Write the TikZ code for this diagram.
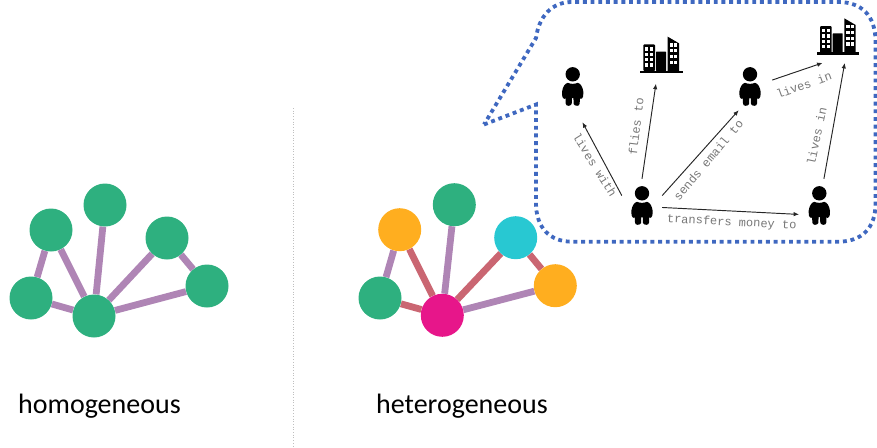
\documentclass[tikz,border=0pt]{standalone}
\usepackage{fontspec}
\setmainfont{Carlito}
\newfontfamily\monof{Liberation Mono}
\usetikzlibrary{arrows.meta,backgrounds}
\definecolor{cgreen}{HTML}{2EB07F}
\definecolor{corange}{HTML}{FFAE1F}
\definecolor{ccyan}{HTML}{28C8D2}
\definecolor{cmagenta}{HTML}{E7168A}
\definecolor{cpurple}{HTML}{AF85B5}
\definecolor{cred}{HTML}{CA6672}
\definecolor{cblue}{HTML}{3F68C0}
\definecolor{clabel}{HTML}{777777}
\tikzset{
  x=1pt,y=-1pt,
  gnode/.style={circle,minimum size=43pt,inner sep=0pt,fill=#1},
  edgep/.style={line width=6.8pt,cpurple},
  edger/.style={line width=6.8pt,cred},
  slot/.style={inner sep=0pt,minimum width=#1},
  arrowline/.style={line width=0.95pt,black!85,-{Latex[length=5.5pt,width=4.5pt]}},
  rel/.style={font=\monof\fontsize{12}{12}\selectfont,text=clabel,inner sep=0pt},
  caption/.style={font=\fontsize{28}{28}\selectfont,text=black,inner sep=0pt,anchor=base west},
  person/.pic={
    \fill[black] (0,-11.7) circle[radius=7.2];
    \fill[black] (-5,-3.2) .. controls (-8,-2.5) and (-10,1) .. (-10.7,6)
      .. controls (-11,9) and (-10.5,12.5) .. (-8,13)
      .. controls (-7.4,13) and (-7.2,12) .. (-7.2,10)
      -- (-7,17.5) .. controls (-7,20.5) and (-2,20.5) .. (-1,18)
      -- (-0.7,12) -- (0.7,12) -- (1,18)
      .. controls (2,20.5) and (7,20.5) .. (7,17.5)
      -- (7.2,10) .. controls (7.2,12) and (7.4,13) .. (8,13)
      .. controls (10.5,12.5) and (11,9) .. (10.7,6)
      .. controls (10,1) and (8,-2.5) .. (5,-3.2)
      .. controls (2,-1.8) and (-2,-1.8) .. cycle;
  },
  building/.pic={
    \fill[black] (-21,15.7) rectangle (21.5,18);
    \fill[black,rounded corners=1pt] (-17.7,16) -- (-17.7,-10.7) -- (-6,-10.7) -- (-6,16) -- cycle;
    \fill[black,rounded corners=0.5pt] (-5,16) -- (-5,-3.3) -- (5,-3.3) -- (5,16) -- cycle;
    \fill[black] (6.7,16) -- (6.7,-18.3) -- (18,-11.7) -- (18,16) -- cycle;
    \foreach \wx in {-16,-11}{\foreach \wy in {-7.7,-2.3,3,8.3}{
      \fill[white] (\wx,\wy) rectangle ++(3.3,3.3);}}
    \foreach \wx in {8.5,13}{\foreach \wy in {-11.7,-6,0,5.7}{
      \fill[white] (\wx,\wy) rectangle ++(3.3,3.3);}}
  },
}
\begin{document}
\begin{tikzpicture}
\useasboundingbox (0,0) rectangle (877,447);
% divider
\draw[black!25,line width=0.7pt,dotted] (293.5,108) coordinate (dt) -- (293.5,447) coordinate (db);
% homogeneous
\node[gnode=cgreen] (a1) at (51,230) {};
\node[gnode=cgreen] (a2) at (105,205) {};
\node[gnode=cgreen] (a3) at (167,238) {};
\node[gnode=cgreen] (a4) at (207,286) {};
\node[gnode=cgreen] (a5) at (31,298) {};
\node[gnode=cgreen] (a6) at (94,316) {};
% heterogeneous
\node[gnode=corange] (b1) at (399.7,229.7) {};
\node[gnode=cgreen] (b2) at (454.3,204.7) {};
\node[gnode=ccyan] (b3) at (515.7,237.7) {};
\node[gnode=corange] (b4) at (555.3,285.7) {};
\node[gnode=cgreen] (b5) at (380,298) {};
\node[gnode=cmagenta] (b6) at (442.3,315.3) {};
\begin{scope}[on background layer]
\draw[edgep] (a5) -- (a1);
\draw[edgep] (a1) -- (a6);
\draw[edgep] (a2) -- (a6);
\draw[edgep] (a3) -- (a6);
\draw[edgep] (a3) -- (a4);
\draw[edgep] (a4) -- (a6);
\draw[edgep] (a5) -- (a6);
\draw[edgep] (b5) -- (b1);
\draw[edger] (b1) -- (b6);
\draw[edgep] (b2) -- (b6);
\draw[edger] (b3) -- (b6);
\draw[edger] (b3) -- (b4);
\draw[edgep] (b4) -- (b6);
\draw[edger] (b5) -- (b6);
\end{scope}
% callout
\draw[cblue,line width=3.8pt,dash pattern=on 3.9pt off 3.8pt]
  (484,124.5) -- (536,104.5) -- (536,203)
  .. controls (536,228) and (550,241.7) .. (572,241.7)
  -- (838,241.7)
  .. controls (862,241.7) and (875,228) .. (875.5,205)
  -- (875.5,40)
  .. controls (875,16) and (862,2) .. (838,2)
  -- (572,2)
  .. controls (552,2) and (539,16) .. (536,38)
  -- cycle;
% knowledge graph
\node[slot=40pt,minimum height=72pt] (pa) at (572.7,86) {};
\node[slot=40pt,minimum height=52pt] (pc) at (642,205) {};
\node[slot=44pt,minimum height=48pt] (pe) at (750,86) {};
\node[slot=40pt,minimum height=52pt] (pd) at (819.3,205) {};
\node[slot=10pt,minimum height=57pt] (ba) at (661,55) {};
\node[slot=30pt,minimum height=52pt] (bb) at (837.7,36.7) {};
\pic at (pa) {person};
\pic at (pc) {person};
\pic at (pe) {person};
\pic at (pd) {person};
\pic at (ba) {building};
\pic at (bb) {building};
\draw[arrowline] (pc.155) -- (pa.-75);
\draw[arrowline] (pc.90) -- (ba.-100);
\draw[arrowline] (pc.25) -- (pe.-115);
\draw[arrowline] (pc.-7) -- (pd.-155);
\draw[arrowline] (pd.80) -- (bb.-75);
\draw[arrowline] (pe.15) -- (bb.-120);
\node[rel,rotate=-58] at (595,165) {lives with};
\node[rel,rotate=83] at (636,126.7) {flies to};
\node[rel,rotate=50] at (708.3,160) {sends email to};
\node[rel,rotate=-3] at (731.7,222.7) {transfers money to};
\node[rel,rotate=20] at (804,85) {lives in};
\node[rel,rotate=78] at (816.7,136) {lives in};
% captions
\node[caption] (homcap) at (18,413) {homogeneous};
\node[caption] (hetcap) at (376,413) {heterogeneous};
\end{tikzpicture}
\end{document}
